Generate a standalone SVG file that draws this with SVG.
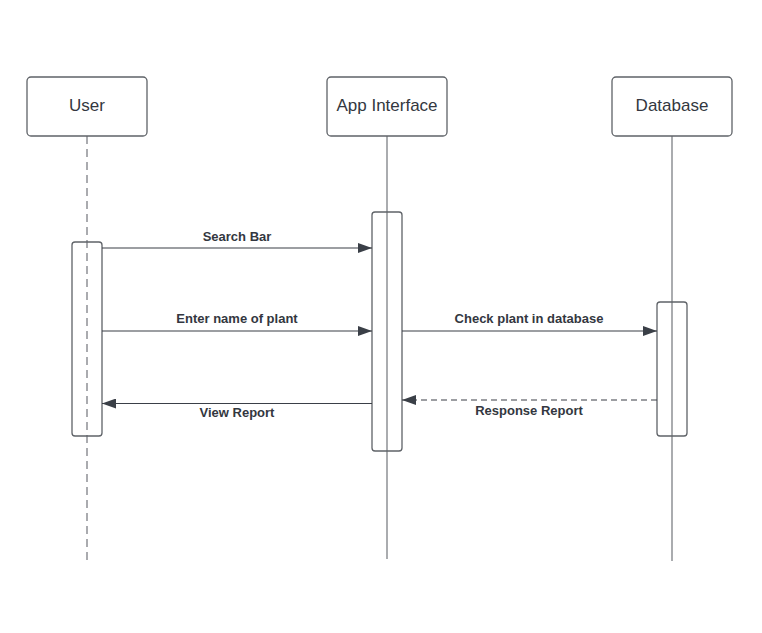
<svg xmlns="http://www.w3.org/2000/svg" width="762" height="633" viewBox="0 0 762 633">
<style>
.hdr{fill:#fff;stroke:#5f6368;stroke-width:1.3}
.act{fill:none;stroke:#5f6368;stroke-width:1.3}
.life{stroke:#8e9095;stroke-width:1.5;fill:none}
.dash{stroke-dasharray:8,5}
.msg{stroke:#3a3f47;stroke-width:1.2;fill:none}
.msgd{stroke:#3a3f47;stroke-width:1.2;fill:none;stroke-dasharray:6,4}
.t{font-family:"Liberation Sans",Arial,sans-serif;font-size:17px;fill:#333740;text-anchor:middle}
.l{font-family:"Liberation Sans",Arial,sans-serif;font-size:13px;font-weight:bold;fill:#333740;text-anchor:middle}
</style>
<defs>
<marker id="ah" markerWidth="14" markerHeight="10" refX="14" refY="5" orient="auto" markerUnits="userSpaceOnUse">
<path d="M0,0 L14,5 L0,10 Z" fill="#3a3f47"/>
</marker>
</defs>
<rect width="762" height="633" fill="#fff"/>
<g id="lifelines">
<line class="life dash" x1="87" y1="136" x2="87" y2="563"/>
<line class="life" x1="387" y1="136" x2="387" y2="559"/>
<line class="life" x1="672" y1="136" x2="672" y2="561"/>
</g>
<g id="user">
<rect class="hdr" x="27" y="77" width="120" height="59" rx="4"/>
<text class="t" x="87" y="111">User</text>
</g>
<g id="app">
<rect class="hdr" x="327" y="77" width="120" height="59" rx="4"/>
<text class="t" x="387" y="111">App Interface</text>
</g>
<g id="database">
<rect class="hdr" x="612" y="77" width="120" height="59" rx="4"/>
<text class="t" x="672" y="111">Database</text>
</g>
<g id="user-activation"><rect class="act" x="72" y="242" width="30" height="194" rx="3"/></g>
<g id="app-activation"><rect class="act" x="372" y="212" width="30" height="239" rx="3"/></g>
<g id="db-activation"><rect class="act" x="657" y="302" width="30" height="134" rx="3"/></g>
<g id="connectors">
<line class="msg" x1="102" y1="248" x2="372" y2="248" marker-end="url(#ah)"/>
<line class="msg" x1="102" y1="331" x2="372" y2="331" marker-end="url(#ah)"/>
<line class="msg" x1="402" y1="331" x2="657" y2="331" marker-end="url(#ah)"/>
<line class="msg" x1="372" y1="403.5" x2="102" y2="403.5" marker-end="url(#ah)"/>
<line class="msgd" x1="657" y1="400" x2="402" y2="400" marker-end="url(#ah)"/>
</g>
<g id="labels">
<text class="l" x="237" y="241">Search Bar</text>
<text class="l" x="237" y="323">Enter name of plant</text>
<text class="l" x="529" y="323">Check plant in database</text>
<text class="l" x="237" y="417">View Report</text>
<text class="l" x="529" y="415">Response Report</text>
</g>
</svg>
